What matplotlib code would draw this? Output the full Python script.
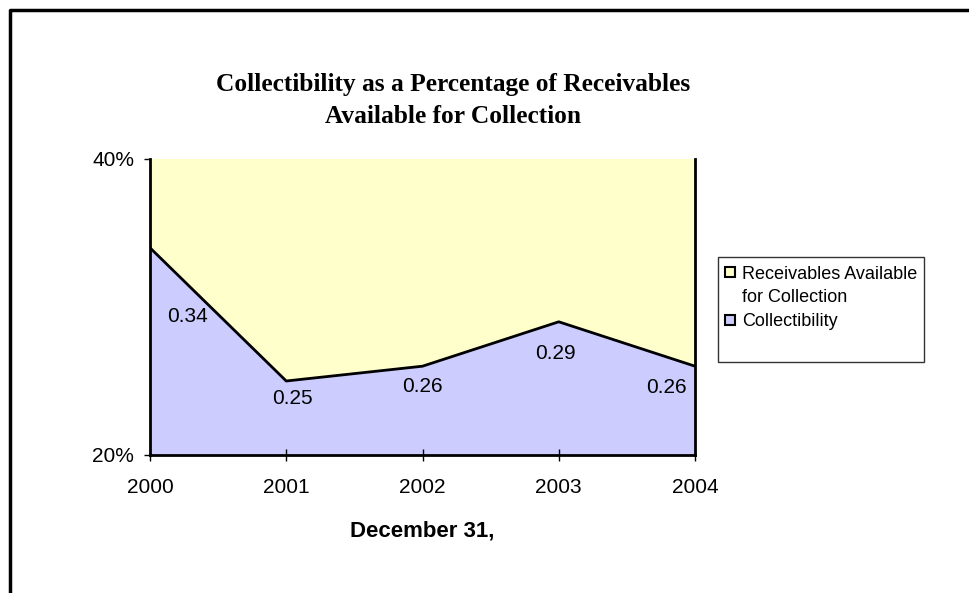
import matplotlib
matplotlib.use('Agg')
import matplotlib.pyplot as plt
from matplotlib.lines import Line2D
from matplotlib.patches import Rectangle
from matplotlib.ticker import PercentFormatter

# year-end values
years = [2000, 2001, 2002, 2003, 2004]
collectibility = [0.34, 0.25, 0.26, 0.29, 0.26]
receivables = [1.00, 1.00, 1.00, 1.00, 1.00]
# label nudges (pixels) so the numbers sit inside the blue area
label_offsets = [(37, -69), (6, -17), (0, -20), (-3, -32), (-29, -21)]

BLUE = '#CCCCFF'
YELLOW = '#FFFFCC'
SANS = 'Liberation Sans'

fig = plt.figure(figsize=(9.69, 5.93), dpi=100)
ax = fig.add_axes([150 / 969, 1 - 455 / 593, 545 / 969, 296 / 593])

ax.fill_between(years, 0, collectibility, color=BLUE, lw=0)
ax.fill_between(years, collectibility, receivables, color=YELLOW, lw=0)
ax.plot(years, collectibility, color='black', lw=2)

for yr, val, (dx, dy) in zip(years, collectibility, label_offsets):
    ax.annotate(f'{val:.2f}', xy=(yr, val), xytext=(dx, dy),
                textcoords='offset pixels', ha='center', va='center',
                fontsize=15, family=SANS)

ax.set_xlim(years[0], years[-1])
ax.set_ylim(0.2, 0.4)
ax.set_xticks(years)
ax.set_yticks([0.2, 0.4])
ax.yaxis.set_major_formatter(PercentFormatter(1.0, decimals=0))
ax.tick_params(axis='x', direction='inout', length=9, width=1, pad=12,
               labelsize=15)
ax.tick_params(axis='y', direction='out', length=4.5, width=1, pad=7,
               labelsize=15)
for lbl in ax.get_xticklabels() + ax.get_yticklabels():
    lbl.set_family(SANS)

ax.spines['top'].set_visible(False)
for side in ['left', 'bottom', 'right']:
    ax.spines[side].set_linewidth(2)
    ax.spines[side].set_color('black')

ax.set_xlabel('December 31,', fontsize=16, fontweight='bold', family=SANS,
              labelpad=17)

fig.text(453 / 969, 1 - 73 / 593,
         'Collectibility as a Percentage of Receivables\nAvailable for Collection',
         ha='center', va='top', fontsize=18.3, fontweight='bold',
         family='Liberation Serif', linespacing=1.5)

# legend: the long label wraps onto a second row with no swatch
def swatch(color):
    return Line2D([], [], ls='none', marker='s', markersize=7,
                  markerfacecolor=color, markeredgecolor='black',
                  markeredgewidth=1.5)

handles = [swatch(YELLOW), Line2D([], [], ls='none'), swatch(BLUE)]
labels = ['Receivables Available', 'for Collection', 'Collectibility']
leg = fig.legend(handles, labels,
                 loc='upper left', bbox_to_anchor=(720 / 969, 1 - 262 / 593),
                 frameon=False, prop={'family': SANS, 'size': 13},
                 handlelength=0.7, handletextpad=0.3, borderpad=0.2,
                 labelspacing=0.38, borderaxespad=0)
fig.add_artist(Rectangle((718 / 969, 1 - 362 / 593), 206 / 969, 105 / 593,
                         transform=fig.transFigure, fill=False,
                         edgecolor='#333333', lw=1))

# chart border (top and left edges)
fig.add_artist(Line2D([9.5 / 969, 9.5 / 969, 1], [0, 1 - 9.5 / 593, 1 - 9.5 / 593],
                      transform=fig.transFigure, color='black', lw=2.5))

fig.savefig('out.png', dpi=100)
